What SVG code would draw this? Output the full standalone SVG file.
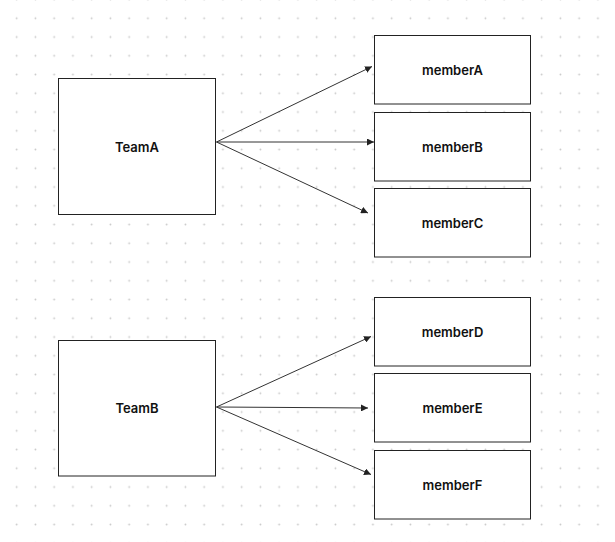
<svg xmlns="http://www.w3.org/2000/svg" width="615" height="542" viewBox="0 0 615 542">
<defs>
<pattern id="dots" x="7.3" y="8.9" width="18.75" height="18.75" patternUnits="userSpaceOnUse">
<circle cx="9.375" cy="9.375" r="0.9" fill="#c8c8c8"/>
</pattern>
<marker id="arr" viewBox="0 0 10 10" refX="10" refY="5" markerWidth="7" markerHeight="7" markerUnits="userSpaceOnUse" orient="auto">
<path d="M0,0 L10,5 L0,10 z" fill="#222"/>
</marker>
<style>
.box{fill:#fff;stroke:#222;stroke-width:1}
.lbl{font-family:Inter,"Liberation Sans",sans-serif;font-size:13px;font-weight:600;fill:#111;text-anchor:middle}
.edge{stroke:#333;stroke-width:1;fill:none;marker-end:url(#arr)}
</style>
</defs>
<rect width="615" height="542" fill="#fff"/>
<rect width="615" height="542" fill="url(#dots)"/>
<g id="connectors">
<line class="edge" x1="216.5" y1="142" x2="372" y2="66.5"/>
<line class="edge" x1="216.5" y1="142" x2="374" y2="142"/>
<line class="edge" x1="216.5" y1="142" x2="368" y2="213"/>
<line class="edge" x1="216.5" y1="407" x2="371" y2="336.5"/>
<line class="edge" x1="216.5" y1="407" x2="368" y2="408"/>
<line class="edge" x1="216.5" y1="407" x2="371" y2="474.5"/>
</g>
<g id="TeamA"><rect class="box" x="58.5" y="78.5" width="157" height="136"/><text class="lbl" x="137" y="151.5">TeamA</text></g>
<g id="TeamB"><rect class="box" x="58.5" y="340.5" width="157" height="135.5"/><text class="lbl" x="137" y="413">TeamB</text></g>
<g id="memberA"><rect class="box" x="374.5" y="35.5" width="156" height="68.5"/><text class="lbl" x="452.5" y="74.5">memberA</text></g>
<g id="memberB"><rect class="box" x="374.5" y="112.5" width="156" height="68.5"/><text class="lbl" x="452.5" y="151.5">memberB</text></g>
<g id="memberC"><rect class="box" x="374.5" y="188.5" width="156" height="68.5"/><text class="lbl" x="452.5" y="227.5">memberC</text></g>
<g id="memberD"><rect class="box" x="374.5" y="297.5" width="156" height="68.5"/><text class="lbl" x="452.5" y="336.5">memberD</text></g>
<g id="memberE"><rect class="box" x="374.5" y="373.5" width="156" height="68.5"/><text class="lbl" x="452.5" y="412.5">memberE</text></g>
<g id="memberF"><rect class="box" x="374.5" y="450.5" width="156" height="68.5"/><text class="lbl" x="452.5" y="489.5">memberF</text></g>
</svg>
